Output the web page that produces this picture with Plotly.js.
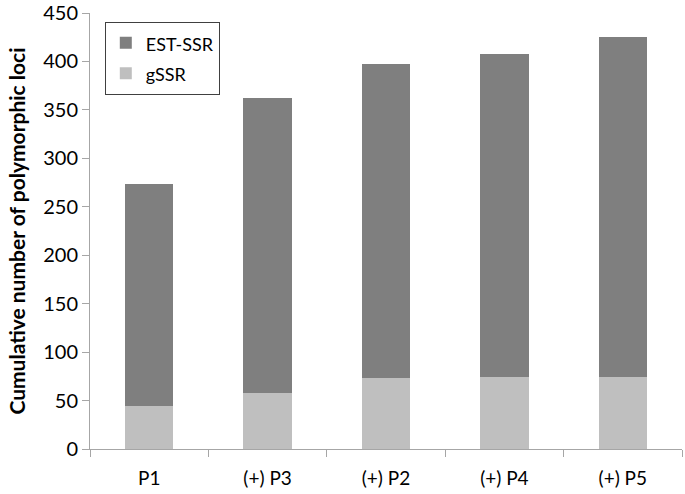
<!DOCTYPE html>
<html><head><meta charset="utf-8">
<script src="https://cdn.plot.ly/plotly-3.0.1.min.js"></script>
<style>body{margin:0;padding:0;background:#fff}#chart{width:685px;height:494px}</style>
</head><body><div id="chart"></div>
<script>
const categories = ["P1", "(+) P3", "(+) P2", "(+) P4", "(+) P5"];
const gSSR = [44, 58, 73, 74, 74];
const estSSR = [230, 304, 324, 334, 351];
const yTicks = [0, 50, 100, 150, 200, 250, 300, 350, 400, 450];
const seriesNames = ["gSSR", "EST-SSR"];

const font = "Lato, 'Open Sans', sans-serif";
const lbl = s => '<span style="font-size:18px">' + s + '</span>';
const data = [
  {type: "bar", name: lbl(seriesNames[0]), x: categories, y: gSSR, marker: {color: "#bfbfbf"}},
  {type: "bar", name: lbl(seriesNames[1]), x: categories, y: estSSR, marker: {color: "#7f7f7f"}}
];
const layout = {
  width: 685, height: 494,
  margin: {l: 90, r: 3, t: 13, b: 45},
  barmode: "stack", bargap: 0.59,
  paper_bgcolor: "#fff", plot_bgcolor: "#fff",
  font: {family: font, size: 18, color: "#000"},
  showlegend: true,
  legend: {x: 0.025, y: 0.98, xanchor: "left", yanchor: "top", traceorder: "reversed",
    bordercolor: "#404040", borderwidth: 1, bgcolor: "#fff", font: {family: font, size: 21}},
  xaxis: {type: "category", showline: true, linecolor: "#a6a6a6", linewidth: 1,
    ticks: "outside", tickson: "boundaries", ticklen: 7, tickcolor: "#a6a6a6",
    ticklabelstandoff: 12,
    showgrid: false, zeroline: false, tickfont: {family: font, size: 19}},
  yaxis: {range: [0, 450], tickvals: yTicks, showline: true, linecolor: "#a6a6a6", linewidth: 1,
    ticks: "outside", ticklen: 7, tickcolor: "#a6a6a6", showgrid: false, zeroline: false,
    ticklabeloverflow: "allow",
    tickfont: {family: font, size: 20},
    title: {text: "Cumulative number of polymorphic loci", font: {family: font, size: 21, weight: "bold"}, standoff: 11}}
};
Plotly.newPlot("chart", data, layout, {displayModeBar: false, staticPlot: true});
</script></body></html>
